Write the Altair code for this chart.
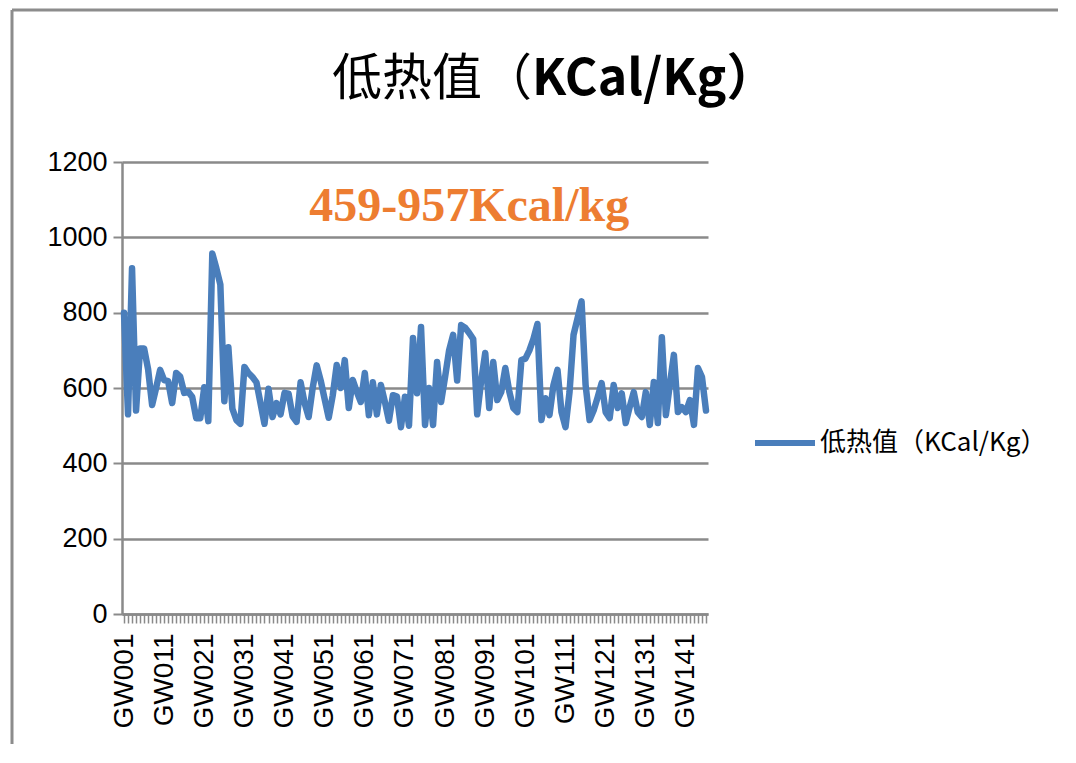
import altair as alt
import pandas as pd

# ---- data ----
ids = [f"GW{i:03d}" for i in range(1, 147)]
values = [
    800, 530, 918, 540, 705, 705, 650, 555, 600, 648,
    621, 618, 560, 640, 630, 587, 590, 576, 520, 520,
    602, 512, 957, 918, 875, 565, 708, 545, 515, 505,
    656, 640, 629, 615, 560, 505, 598, 523, 560, 530,
    587, 585, 525, 510, 615, 560, 523, 600, 660, 620,
    570, 521, 580, 661, 600, 674, 547, 621, 590, 563,
    640, 528, 615, 530, 608, 563, 513, 581, 577, 496,
    577, 500, 733, 586, 762, 502, 600, 502, 669, 563,
    630, 700, 741, 620, 767, 760, 746, 730, 530, 620,
    693, 547, 669, 568, 590, 653, 590, 547, 536, 674,
    678, 700, 730, 770, 515, 573, 528, 608, 648, 536,
    496, 589, 741, 785, 830, 608, 515, 540, 575, 613,
    536, 520, 608, 547, 586, 507, 550, 589, 536, 523,
    589, 502, 616, 507, 735, 528, 610, 688, 536, 549,
    536, 568, 502, 653, 629, 540,
]
series_name = "低热值（KCal/Kg）"
title_cn = ["低热值（"]
title_en = ["KCal/Kg）"]
note_text = ["459-957Kcal/kg"]
note_id = ["GW087"]
note_value = [1080]
y_ticks = [0, 200, 400, 600, 800, 1000, 1200]

df = pd.DataFrame({"id": ids, "value": values, "series": series_name})
note_df = pd.DataFrame({"id": note_id, "value": note_value, "text": note_text})
title_cn_df = pd.DataFrame({"text": title_cn})
title_en_df = pd.DataFrame({"text": title_en})
dummy = pd.DataFrame({"k": [0]})

x_enc = alt.X(
    "id:O",
    sort=ids,
    scale=alt.Scale(type="point", padding=0.5),
    axis=alt.Axis(
        title=None,
        labelAngle=270,
        labelAlign="right",
        labelBaseline="middle",
        labelFont="Liberation Sans",
        labelFontSize=28,
        labelColor="#000000",
        labelPadding=10,
        labelOverlap=False,
        labelExpr="(toNumber(substring(datum.value, 2)) - 1) % 10 == 0 ? datum.value : ''",
        tickSize=9,
        tickColor="#8a8a8a",
        tickWidth=1.5,
        domainColor="#8a8a8a",
        domainWidth=2.5,
        grid=False,
    ),
)

line = alt.Chart(df).mark_line(strokeWidth=6.5, strokeJoin="round", strokeCap="round").encode(
    x=x_enc,
    y=alt.Y(
        "value:Q",
        scale=alt.Scale(domain=[0, 1200], nice=False),
        axis=alt.Axis(
            title=None,
            values=y_ticks,
            format="d",
            labelFont="Liberation Sans",
            labelFontSize=27,
            labelColor="#000000",
            labelPadding=6,
            tickSize=9,
            tickColor="#8a8a8a",
            tickWidth=2,
            domainColor="#8a8a8a",
            domainWidth=2.5,
            grid=True,
            gridColor="#8a8a8a",
            gridWidth=2.5,
        ),
    ),
    color=alt.Color(
        "series:N",
        scale=alt.Scale(range=["#4A7EBB"]),
        legend=alt.Legend(
            title=None,
            orient="none",
            legendX=630,
            legendY=248,
            symbolType="stroke",
            symbolSize=3600,
            symbolStrokeWidth=6,
            labelFont="Noto Sans CJK SC",
            labelFontSize=26,
            labelColor="#000000",
            labelLimit=0,
            labelOffset=2,
        ),
    ),
)

note = alt.Chart(note_df).mark_text(
    font="Liberation Serif", fontWeight="bold", fontSize=48, color="#ED7D31", baseline="middle"
).encode(
    x=alt.X("id:O", sort=ids),
    y="value:Q",
    text="text:N",
)

title_a = alt.Chart(title_cn_df).mark_text(
    font="Noto Sans CJK SC", fontSize=50, fontWeight="normal", color="#000000",
    align="right", baseline="middle",
).encode(x=alt.value(410), y=alt.value(-82), text="text:N")

title_b = alt.Chart(title_en_df).mark_text(
    font="Noto Sans CJK SC", fontSize=50, fontWeight="bold", color="#000000",
    align="left", baseline="middle",
).encode(x=alt.value(410), y=alt.value(-82), text="text:N")

frame_top = alt.Chart(dummy).mark_rule(color="#8c8c8c", strokeWidth=3).encode(
    x=alt.value(-110), x2=alt.value(960), y=alt.value(-152)
)
frame_left = alt.Chart(dummy).mark_rule(color="#8c8c8c", strokeWidth=3).encode(
    x=alt.value(-110), y=alt.value(-152), y2=alt.value(590)
)

chart = alt.layer(frame_top, frame_left, title_a, title_b, line, note).properties(
    width=586,
    height=452,
    padding={"left": 114, "top": 154, "right": 350, "bottom": 130},
    autosize=alt.AutoSizeParams(type="none"),
).configure_view(stroke=None)

chart.save("out.html", embed_options={"renderer": "svg", "actions": False})
